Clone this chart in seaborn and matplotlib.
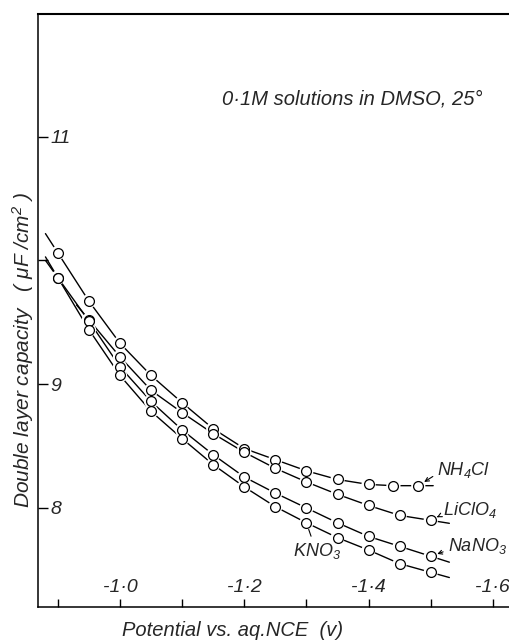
import numpy as np
import pandas as pd
import matplotlib
matplotlib.use("Agg")
import matplotlib.pyplot as plt
import seaborn as sns

# Double-layer capacity (uF/cm^2) vs potential (V vs aq. NCE), 0.1 M salts in DMSO at 25 C
E_nh4cl = [-0.90, -0.95, -1.00, -1.05, -1.10, -1.15, -1.20, -1.25, -1.30, -1.35, -1.40, -1.44, -1.48]
C_nh4cl = [10.06, 9.67, 9.33, 9.07, 8.85, 8.64, 8.48, 8.39, 8.30, 8.23, 8.19, 8.18, 8.18]

E_liclo4 = [-0.95, -1.00, -1.05, -1.10, -1.15, -1.20, -1.25, -1.30, -1.35, -1.40, -1.45, -1.50]
C_liclo4 = [9.52, 9.22, 8.95, 8.77, 8.60, 8.45, 8.32, 8.21, 8.11, 8.02, 7.94, 7.90]

E_nano3 = [-0.90, -0.95, -1.00, -1.05, -1.10, -1.15, -1.20, -1.25, -1.30, -1.35, -1.40, -1.45, -1.50]
C_nano3 = [9.86, 9.51, 9.14, 8.86, 8.63, 8.43, 8.25, 8.12, 8.00, 7.88, 7.77, 7.69, 7.61]

E_kno3 = [-0.90, -0.95, -1.00, -1.05, -1.10, -1.15, -1.20, -1.25, -1.30, -1.35, -1.40, -1.45, -1.50]
C_kno3 = [9.86, 9.44, 9.07, 8.78, 8.56, 8.35, 8.17, 8.01, 7.88, 7.76, 7.66, 7.55, 7.48]

salts = ["NH4Cl", "LiClO4", "NaNO3", "KNO3"]
series = {
    "NH4Cl": (E_nh4cl, C_nh4cl),
    "LiClO4": (E_liclo4, C_liclo4),
    "NaNO3": (E_nano3, C_nano3),
    "KNO3": (E_kno3, C_kno3),
}
salt_labels = {
    "NH4Cl": "NH$_4$Cl",
    "LiClO4": "LiClO$_4$",
    "NaNO3": "NaNO$_3$",
    "KNO3": "KNO$_3$",
}

x_ticks = [-0.9, -1.0, -1.1, -1.2, -1.3, -1.4, -1.5, -1.6]
x_tick_labels = ["", "-1·0", "", "-1·2", "", "-1·4", "", "-1·6"]
y_ticks = [8, 9, 10, 11]
y_tick_labels = ["8", "9", "", "11"]

sns.set_theme(style="white")
FONT = "Liberation Sans"
plt.rcParams["font.family"] = [FONT, "DejaVu Sans"]
plt.rcParams["font.style"] = "italic"
plt.rcParams["mathtext.fontset"] = "custom"
plt.rcParams["mathtext.rm"] = FONT + ":italic"
plt.rcParams["mathtext.it"] = FONT + ":italic"
plt.rcParams["mathtext.default"] = "it"

# Points, plus a short run-out of each curve past its first and last measurement
points = pd.concat(
    [pd.DataFrame({"salt": s, "E": series[s][0], "C": series[s][1]}) for s in salts],
    ignore_index=True,
)
line_rows = []
for s in salts:
    e = np.asarray(series[s][0], float)
    c = np.asarray(series[s][1], float)
    e0 = e[0] + 0.4 * (e[0] - e[1]); c0 = c[0] + 0.4 * (c[0] - c[1])
    e1 = e[-1] + 0.6 * (e[-1] - e[-2]); c1 = c[-1] + 0.6 * (c[-1] - c[-2])
    ee = np.concatenate([[e0], e, [e1]])
    cc = np.concatenate([[c0], c, [c1]])
    for k, (a, b) in enumerate(zip(ee, cc)):
        line_rows.append({"salt": s, "order": k, "E": a, "C": b})
lines = pd.DataFrame(line_rows)

fig = plt.figure(figsize=(5.09, 6.40), dpi=100)
ax = fig.add_axes([38 / 509, 33 / 640, 1 - 38 / 509, 593 / 640])

sns.lineplot(data=lines, x="E", y="C", units="salt", estimator=None, sort=False,
             color="black", linewidth=1.0, ax=ax, legend=False)
# white halo to open a small gap in the line around each circle
sns.scatterplot(data=points, x="E", y="C", s=105, color="white", edgecolor="none",
                linewidth=0, ax=ax, legend=False, zorder=3)
sns.scatterplot(data=points, x="E", y="C", s=50, facecolor="white", edgecolor="black",
                linewidth=0.9, ax=ax, legend=False, zorder=4)

ax.set_xlim(-0.868, -1.626)
ax.set_ylim(7.20, 11.99)

ax.set_xticks(x_ticks, labels=x_tick_labels)
ax.set_yticks(y_ticks, labels=y_tick_labels)
ax.tick_params(axis="x", direction="in", length=6, width=1.0, pad=-8, labelsize=14,
               bottom=True, color="black")
ax.tick_params(axis="y", direction="in", length=7, width=1.0, pad=-9, labelsize=14,
               left=True, color="black")
for t in ax.get_xticklabels():
    t.set_verticalalignment("bottom")
for t in ax.get_yticklabels():
    t.set_horizontalalignment("left")

for side in ("left", "bottom", "top"):
    ax.spines[side].set_color("black")
ax.spines["left"].set_linewidth(1.1)
ax.spines["bottom"].set_linewidth(1.1)
ax.spines["top"].set_linewidth(1.5)
ax.spines["right"].set_visible(False)
ax.set_xlabel("")
ax.set_ylabel("")

# series labels with pointers
offsets = {"NH4Cl": (19, 16), "LiClO4": (12, 10), "NaNO3": (17, 10)}
for s, (dx, dy) in offsets.items():
    ax.annotate(salt_labels[s], xy=(series[s][0][-1], series[s][1][-1]),
                xytext=(dx, dy), textcoords="offset pixels", ha="left", va="center",
                fontsize=13, fontstyle="italic",
                arrowprops=dict(arrowstyle="->", color="black", lw=0.8,
                                shrinkA=1, shrinkB=5, relpos=(0.0, 0.3),
                                mutation_scale=7))
ax.annotate(salt_labels["KNO3"], xy=(series["KNO3"][0][8], series["KNO3"][1][8]),
            xytext=(11, -28), textcoords="offset pixels", ha="center", va="center",
            fontsize=13, fontstyle="italic",
            arrowprops=dict(arrowstyle="-", color="black", lw=0.8,
                            shrinkA=1, shrinkB=5, relpos=(0.4, 1.0)))

ax.text(-1.164, 11.30, "0·1M solutions in DMSO, 25°", ha="left", va="center",
        fontsize=14.5, fontstyle="italic")

fig.text(23 / 509, 1 - 350 / 640, "Double layer capacity   ( μF /cm$^2$ )",
         rotation=90, ha="center", va="center", fontsize=15, fontstyle="italic")
fig.text(233 / 509, 1 - 630 / 640, "Potential vs. aq.NCE  (v)",
         ha="center", va="center", fontsize=14.5, fontstyle="italic")

fig.savefig("out.png", dpi=100, facecolor="white")
